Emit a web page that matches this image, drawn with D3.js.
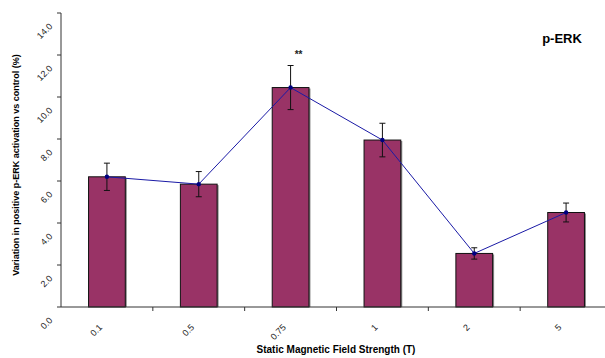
<!DOCTYPE html>
<html>
<head>
<meta charset="utf-8">
<script src="https://cdn.jsdelivr.net/npm/d3@7"></script>
<style>
  body { margin: 0; background: #fff; }
  text { font-family: Arial, "Liberation Sans", sans-serif; }
</style>
</head>
<body>
<svg id="chart" width="605" height="358"></svg>
<script>
// data
var fields = ["0.1", "0.5", "0.75", "1", "2", "5"];
var values = [6.2, 5.85, 10.45, 7.95, 2.55, 4.5];
var errors = [0.65, 0.6, 1.05, 0.8, 0.27, 0.45];
var yTicks = [0, 2, 4, 6, 8, 10, 12, 14];
var marks = ["", "", "**", "", "", ""];

var svg = d3.select("#chart");

var x = d3.scaleBand()
    .domain(fields)
    .range([61, 612])
    .padding(0);

var y = d3.scaleLinear()
    .domain([0, 14])
    .range([307, 13]);

var barW = x.bandwidth() * 0.4;
var cx = function(d) { return x(d) + x.bandwidth() / 2; };

// bars
svg.selectAll(".shadow")
    .data(fields)
    .enter().append("rect")
    .attr("x", d => cx(d) - barW / 2 + 1.5)
    .attr("y", (d, i) => y(values[i]) + 1)
    .attr("width", barW)
    .attr("height", (d, i) => y(0) - y(values[i]) - 1)
    .attr("fill", "#888");

svg.selectAll(".bar")
    .data(fields)
    .enter().append("rect")
    .attr("x", d => cx(d) - barW / 2)
    .attr("y", (d, i) => y(values[i]))
    .attr("width", barW)
    .attr("height", (d, i) => y(0) - y(values[i]))
    .attr("fill", "#993366")
    .attr("stroke", "#111")
    .attr("stroke-width", 1);

// axes
svg.append("line")
    .attr("x1", 61).attr("x2", 61)
    .attr("y1", y(14)).attr("y2", y(0))
    .attr("stroke", "#333");
svg.append("line")
    .attr("x1", 61).attr("x2", 605)
    .attr("y1", y(0)).attr("y2", y(0))
    .attr("stroke", "#333");

svg.selectAll(".ytick")
    .data(yTicks)
    .enter().append("line")
    .attr("x1", 57).attr("x2", 61)
    .attr("y1", d => y(d)).attr("y2", d => y(d))
    .attr("stroke", "#333");

svg.selectAll(".ylab")
    .data(yTicks)
    .enter().append("text")
    .attr("transform", d => "translate(53," + (y(d) + 14) + ") rotate(-45)")
    .attr("text-anchor", "end")
    .attr("font-size", 9)
    .attr("fill", "#222")
    .text(d => d.toFixed(1));

svg.selectAll(".xtick")
    .data(fields.slice(1))
    .enter().append("line")
    .attr("x1", d => x(d)).attr("x2", d => x(d))
    .attr("y1", y(0)).attr("y2", y(0) + 4)
    .attr("stroke", "#333");

svg.selectAll(".xlab")
    .data(fields)
    .enter().append("text")
    .attr("transform", d => "translate(" + (cx(d) - 4) + ",328) rotate(-45)")
    .attr("text-anchor", "end")
    .attr("font-size", 9)
    .attr("fill", "#222")
    .text(d => d);

// error bars
var eb = svg.selectAll(".err").data(fields).enter().append("g")
    .attr("stroke", "#111").attr("stroke-width", 1);
eb.append("line")
    .attr("x1", d => cx(d)).attr("x2", d => cx(d))
    .attr("y1", (d, i) => y(values[i] + errors[i]))
    .attr("y2", (d, i) => y(values[i] - errors[i]));
eb.append("line")
    .attr("x1", d => cx(d) - 3).attr("x2", d => cx(d) + 3)
    .attr("y1", (d, i) => y(values[i] + errors[i]))
    .attr("y2", (d, i) => y(values[i] + errors[i]));
eb.append("line")
    .attr("x1", d => cx(d) - 3).attr("x2", d => cx(d) + 3)
    .attr("y1", (d, i) => y(values[i] - errors[i]))
    .attr("y2", (d, i) => y(values[i] - errors[i]));

// line + markers
var line = d3.line()
    .x(d => cx(d))
    .y((d, i) => y(values[i]));
svg.append("path")
    .datum(fields)
    .attr("d", line)
    .attr("fill", "none")
    .attr("stroke", "#1a1aa6")
    .attr("stroke-width", 1);
svg.selectAll(".dot")
    .data(fields)
    .enter().append("circle")
    .attr("cx", d => cx(d))
    .attr("cy", (d, i) => y(values[i]))
    .attr("r", 2.2)
    .attr("fill", "#000080");

// significance marks
svg.selectAll(".sig")
    .data(fields)
    .enter().append("text")
    .attr("x", d => cx(d) + 8)
    .attr("y", (d, i) => y(values[i] + errors[i]) - 8)
    .attr("text-anchor", "middle")
    .attr("font-size", 10)
    .attr("font-weight", "bold")
    .attr("fill", "#222")
    .text((d, i) => marks[i]);

// titles
svg.append("text")
    .attr("x", 562).attr("y", 43)
    .attr("text-anchor", "middle")
    .attr("font-size", 13)
    .attr("font-weight", "bold")
    .text("p-ERK");

svg.append("text")
    .attr("x", 336).attr("y", 353)
    .attr("text-anchor", "middle")
    .attr("font-size", 10)
    .attr("font-weight", "bold")
    .text("Static Magnetic Field Strength (T)");

svg.append("text")
    .attr("transform", "translate(19,165) rotate(-90)")
    .attr("text-anchor", "middle")
    .attr("font-size", 9)
    .attr("font-weight", "bold")
    .text("Variation in positive p-ERK activation vs control (%)");
</script>
</body>
</html>
